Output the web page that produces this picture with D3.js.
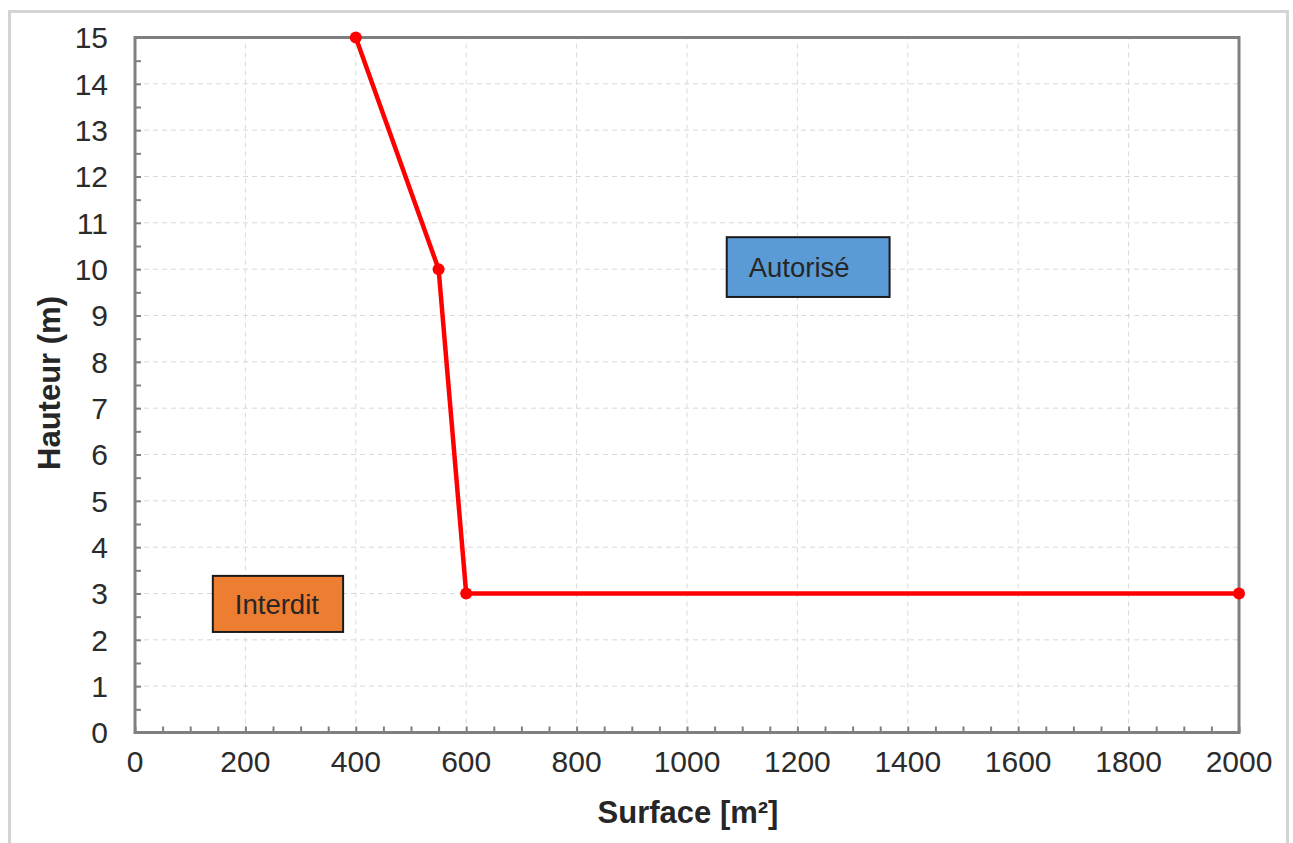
<!DOCTYPE html>
<html>
<head>
<meta charset="utf-8">
<script src="https://cdn.jsdelivr.net/npm/d3@7"></script>
<style>
  html, body { margin: 0; padding: 0; background: #fff; }
  svg { display: block; }
  text { font-family: "Liberation Sans", Arial, sans-serif; }
</style>
</head>
<body>
<div id="chart"></div>
<script>
// ---- data ----
const surfaces = [400, 550, 600, 2000];
const hauteurs = [15, 10, 3, 3];
const xTickValues = [0, 200, 400, 600, 800, 1000, 1200, 1400, 1600, 1800, 2000];
const yTickValues = [0, 1, 2, 3, 4, 5, 6, 7, 8, 9, 10, 11, 12, 13, 14, 15];
const zoneLabels = ["Autorisé", "Interdit"];
const xTitle = "Surface [m²]";
const yTitle = "Hauteur (m)";

const W = 1293, H = 843;
const margin = { left: 135, top: 37.5, right: W - 1239, bottom: H - 732.5 };

const svg = d3.select("#chart").append("svg").attr("width", W).attr("height", H);

// outer frame
svg.append("rect").attr("x", 9.5).attr("y", 11.5).attr("width", 1278).attr("height", 850)
  .attr("fill", "none").attr("stroke", "#d4d4d4").attr("stroke-width", 3);

const x = d3.scaleLinear().domain([0, 2000]).range([margin.left, W - margin.right]);
const y = d3.scaleLinear().domain([0, 15]).range([H - margin.bottom, margin.top]);

// grid
const grid = svg.append("g").attr("stroke", "#d9d9d9").attr("stroke-width", 1).attr("stroke-dasharray", "5,4");
grid.selectAll(".gx").data(xTickValues.slice(1, -1)).join("line")
  .attr("x1", d => x(d)).attr("x2", d => x(d)).attr("y1", y(0)).attr("y2", y(15));
grid.selectAll(".gy").data(yTickValues.slice(1, -1)).join("line")
  .attr("x1", x(0)).attr("x2", x(2000)).attr("y1", d => y(d)).attr("y2", d => y(d));

// axes (inner ticks)
const xMinor = d3.range(0, 2001, 50);
const yMinor = d3.range(0, 15.01, 0.5);
const xAxis = svg.append("g").attr("transform", `translate(0,${y(0)})`)
  .call(d3.axisBottom(x).tickValues(xMinor).tickSize(-6).tickFormat(""));
const yAxis = svg.append("g").attr("transform", `translate(${x(0)},0)`)
  .call(d3.axisLeft(y).tickValues(yMinor).tickSize(-6).tickFormat(""));
[xAxis, yAxis].forEach(a => {
  a.selectAll("line").attr("stroke", "#7f7f7f").attr("stroke-width", 2);
  a.select(".domain").remove();
});

// plot frame
svg.append("rect").attr("x", x(0)).attr("y", y(15)).attr("width", x(2000) - x(0)).attr("height", y(0) - y(15))
  .attr("fill", "none").attr("stroke", "#7f7f7f").attr("stroke-width", 3);

// tick labels
svg.append("g").selectAll("text").data(xTickValues).join("text")
  .attr("x", d => x(d)).attr("y", y(0) + 39).attr("text-anchor", "middle")
  .attr("font-size", 30).attr("fill", "#2b2b2b").text(d => d);
svg.append("g").selectAll("text").data(yTickValues).join("text")
  .attr("x", x(0) - 27).attr("y", d => y(d)).attr("dy", "0.36em").attr("text-anchor", "end")
  .attr("font-size", 30).attr("fill", "#2b2b2b").text(d => d);

// titles
svg.append("text").attr("x", (x(0) + x(2000)) / 2 + 1).attr("y", 823).attr("text-anchor", "middle")
  .attr("font-size", 31).attr("font-weight", "bold").attr("fill", "#262626").text(xTitle);
svg.append("text").attr("transform", `translate(60,${(y(0) + y(15)) / 2 - 2}) rotate(-90)`)
  .attr("text-anchor", "middle").attr("font-size", 31).attr("font-weight", "bold").attr("fill", "#262626").text(yTitle);

// zone labels (data coordinates of box corners)
const boxes = [
  { label: zoneLabels[0], x0: 1072, x1: 1367, y0: 10.69, y1: 9.4, fill: "#5b9bd5" },
  { label: zoneLabels[1], x0: 141, x1: 377, y0: 3.38, y1: 2.17, fill: "#ed7d31" }
];
const bg = svg.append("g").selectAll("g").data(boxes).join("g");
bg.append("rect").attr("x", d => x(d.x0)).attr("y", d => y(d.y0))
  .attr("width", d => x(d.x1) - x(d.x0)).attr("height", d => y(d.y1) - y(d.y0))
  .attr("fill", d => d.fill).attr("stroke", "#1a1a1a").attr("stroke-width", 2);
bg.append("text").attr("x", d => x(d.x0) + 22).attr("y", d => (y(d.y0) + y(d.y1)) / 2).attr("dy", "0.36em")
  .attr("font-size", 27.5).attr("fill", "#262626").text(d => d.label);

// series
const pts = surfaces.map((s, i) => [s, hauteurs[i]]);
svg.append("path").datum(pts)
  .attr("d", d3.line().x(d => x(d[0])).y(d => y(d[1])))
  .attr("fill", "none").attr("stroke", "#ff0000").attr("stroke-width", 4.5).attr("stroke-linejoin", "round");
svg.append("g").selectAll("circle").data(pts).join("circle")
  .attr("cx", d => x(d[0])).attr("cy", d => y(d[1])).attr("r", 6).attr("fill", "#ff0000");
</script>
</body>
</html>
